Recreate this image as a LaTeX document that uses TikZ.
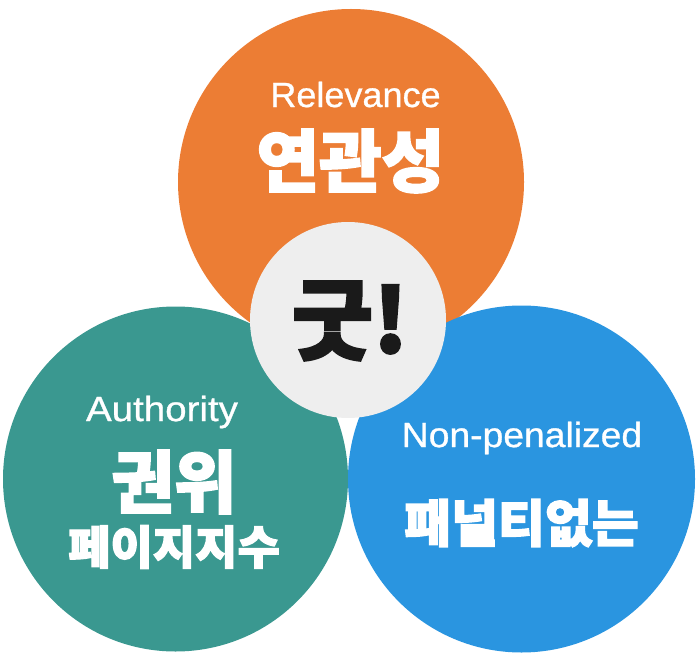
\documentclass[tikz,border=0pt]{standalone}
\usepackage{fontspec}
\setmainfont{Liberation Sans}[FakeBold=0.8]
\newfontfamily\krfont{Noto Sans CJK KR Black}[FakeBold=2.6]
\definecolor{orangeC}{HTML}{EC7D34}
\definecolor{tealC}{HTML}{3A9890}
\definecolor{blueC}{HTML}{2A95E0}
\definecolor{coreC}{HTML}{EEEEEE}
\definecolor{inkC}{HTML}{1A1A1A}
\tikzset{
  petal/.style={circle,inner sep=0pt,minimum size=#1},
  en/.style={text=white,inner sep=0pt,anchor=center,font=\fontsize{35}{40}\selectfont},
  kr/.style={text=white,inner sep=0pt,anchor=center},
}
\begin{document}
\begin{tikzpicture}[x=1pt,y=-1pt]
\useasboundingbox (0,0) rectangle (700,660);
\node[petal=346pt,fill=orangeC] (top) at (351,182) {};
\node[petal=345pt,fill=tealC] (left) at (175.5,479) {};
\node[petal=347pt,fill=blueC] (right) at (521.5,479) {};
\node[petal=196pt,fill=coreC] (core) at (348,320) {};
\node[en,xscale=1.03] (t1) at (355.5,94.5) {Relevance};
\node[kr,font=\krfont\fontsize{68}{70}\selectfont] (t2) at (350.5,161) {연관성};
\node[kr,text=inkC,font=\krfont\fontsize{88}{90}\selectfont] (t3) at (350,321) {굿!};
\node[en,xscale=1.1] (l1) at (162,412) {Authority};
\node[kr,font=\krfont\fontsize{68}{70}\selectfont] (l2) at (174,482) {권위};
\node[kr,font=\krfont\fontsize{46}{50}\selectfont] (l3) at (174,547) {페이지지수};
\node[en,xscale=1.065] (r1) at (522,438) {Non-penalized};
\node[kr,font=\krfont\fontsize{51}{54}\selectfont] (r2) at (521.5,523) {패널티없는};
\end{tikzpicture}
\end{document}
